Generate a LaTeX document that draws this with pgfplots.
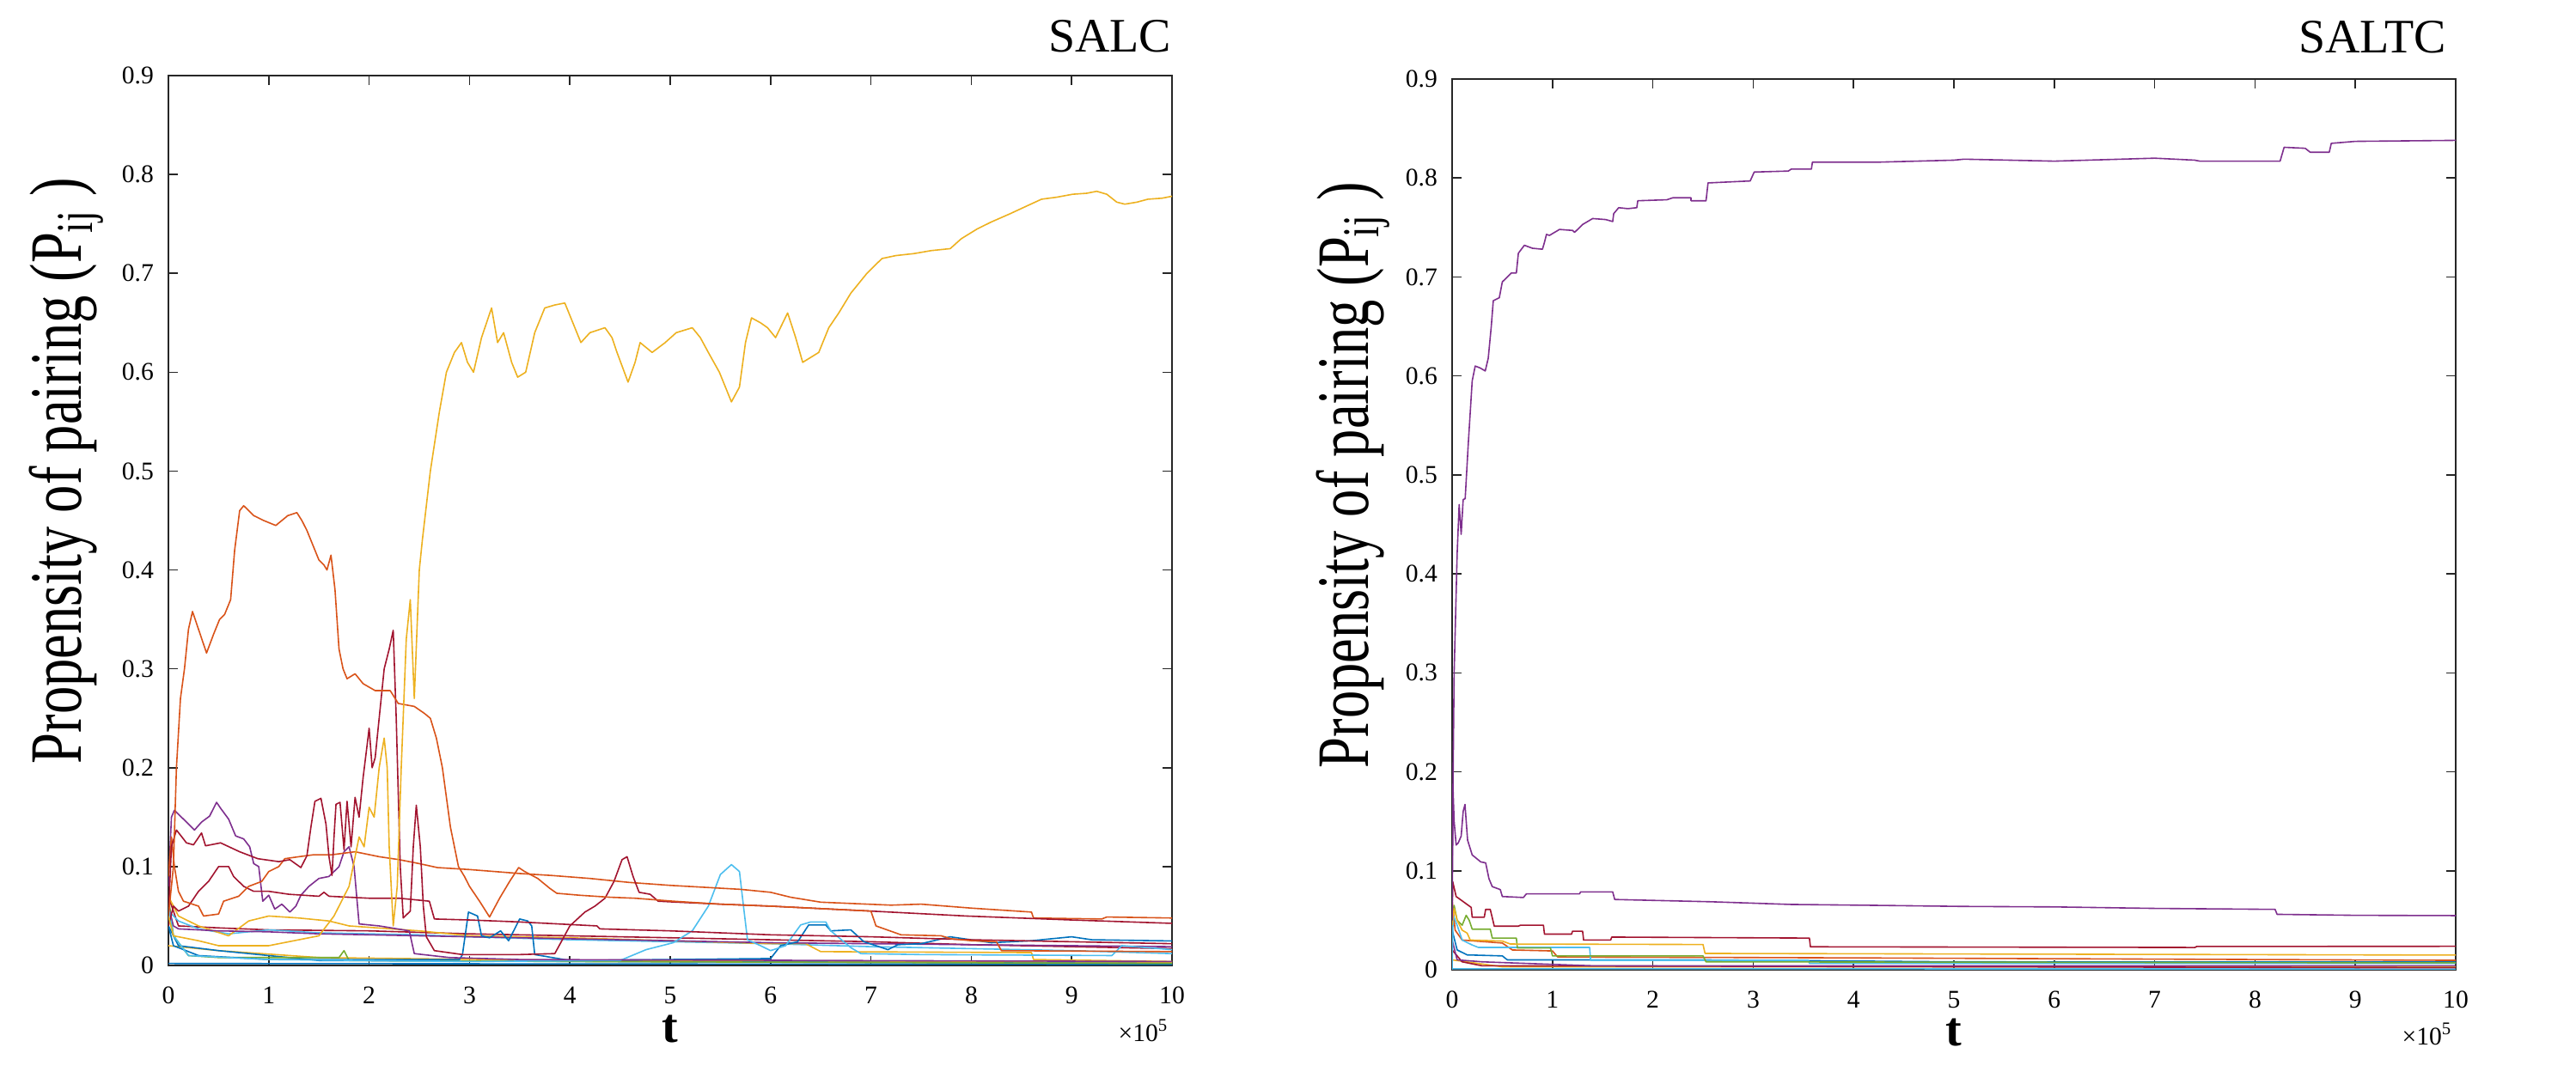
\documentclass[border=0pt]{standalone}
\usepackage{fontspec}
\setmainfont{Liberation Serif}
\usepackage{graphicx}
\usepackage{pgfplots}
\pgfplotsset{compat=1.18}
\definecolor{c1}{rgb}{0,0.447,0.741}
\definecolor{c2}{rgb}{0.850,0.325,0.098}
\definecolor{c3}{rgb}{0.929,0.694,0.125}
\definecolor{c4}{rgb}{0.494,0.184,0.556}
\definecolor{c5}{rgb}{0.466,0.674,0.188}
\definecolor{c6}{rgb}{0.301,0.745,0.933}
\definecolor{c7}{rgb}{0.635,0.078,0.184}
\definecolor{axc}{rgb}{0.15,0.15,0.15}
\pgfplotsset{myax/.style={
  scale only axis, width=292pt, height=259pt, anchor=south west,
  xmin=0, xmax=10, ymin=0, ymax=0.9,
  xtick={0,1,2,3,4,5,6,7,8,9,10},
  ytick={0,0.1,0.2,0.3,0.4,0.5,0.6,0.7,0.8,0.9},
  tick align=inside, major tick length=2.75pt,
  axis line style={draw=axc, line width=0.4pt},
  every tick/.style={axc, line width=0.4pt},
  tick label style={font=\fontsize{7.4}{8}\selectfont, text=black},
  /pgf/number format/assume math mode=true,
  yticklabel style={/pgf/number format/fixed, /pgf/number format/precision=1, xshift=-0.75pt},
  xticklabel style={yshift=-2.75pt},
  every axis plot/.append style={line width=0.4pt, line join=round, mark=none},
}}
\begin{document}
\begin{tikzpicture}
\useasboundingbox (0pt,0pt) rectangle (749.5pt,315.5pt);
% ---------------- SALC ----------------
\begin{axis}[myax, at={(49pt,34.5pt)}]
% low lines
\addplot[c1] coordinates {(0,0.002) (10,0.001)};
\addplot[c3] coordinates {(0,0.02) (0.5,0.015) (1.5,0.008) (4,0.005) (10,0.003)};
\addplot[c1] coordinates {(0,0.04) (0.1,0.02) (0.5,0.015) (1.0,0.01) (1.5,0.005) (10,0.002)};
\addplot[c5] coordinates {(0,0.07) (0.05,0.03) (0.2,0.01) (0.5,0.008) (1.7,0.008) (1.75,0.015) (1.8,0.005) (4.0,0.004) (10,0.002)};
\addplot[c7] coordinates {(0,0.07) (0.1,0.04) (0.5,0.038) (1,0.036) (2,0.035) (3,0.032) (4,0.03) (5,0.028) (6,0.026) (7,0.024) (8,0.021) (9,0.019) (10,0.017)};
\addplot[c6] coordinates {(0,0.055) (0.1,0.045) (0.3,0.037) (0.6,0.032) (1.0,0.036) (1.5,0.033) (2.0,0.032) (2.5,0.031) (3.0,0.029) (4.0,0.026) (5.0,0.024) (6.0,0.022) (7.0,0.019) (8.0,0.017) (9.0,0.015) (10,0.012)};
\addplot[c3] coordinates {(0,0.07) (0.1,0.05) (0.3,0.04) (0.6,0.03) (0.8,0.045) (1.0,0.05) (1.3,0.048) (1.6,0.045) (1.8,0.04) (2.5,0.035) (3,0.03) (4,0.028) (5,0.025) (6,0.022) (6.35,0.022) (6.5,0.014) (8.6,0.013) (8.62,0.006) (10,0.004)};
\addplot[c4] coordinates {(0,0.06) (0.05,0.04) (0.1,0.037) (0.5,0.035) (1.0,0.034) (1.5,0.032) (2.0,0.031) (3.0,0.029) (4.0,0.027) (5.0,0.025) (6.0,0.023) (7.0,0.022) (8.0,0.021) (9.0,0.020) (10,0.019)};
\addplot[c1] coordinates {(0,0.04) (0.05,0.02) (0.3,0.01) (1.0,0.006) (2.9,0.006) (2.93,0.011) (2.99,0.054) (3.08,0.05) (3.12,0.03) (3.2,0.028) (3.31,0.035) (3.39,0.025) (3.5,0.047) (3.58,0.045) (3.62,0.04) (3.65,0.011) (4,0.005) (6.0,0.007) (6.1,0.02) (6.27,0.024) (6.38,0.041) (6.55,0.041) (6.6,0.035) (6.8,0.036) (6.93,0.024) (7.17,0.016) (7.27,0.021) (7.5,0.022) (7.79,0.029) (8.2,0.023) (8.6,0.025) (9.0,0.029) (9.2,0.026) (10,0.0248)};
\addplot[c6] coordinates {(0,0.06) (0.05,0.03) (0.2,0.01) (1.0,0.006) (2.0,0.005) (3.0,0.004) (4.5,0.005) (4.76,0.016) (5.03,0.023) (5.22,0.035) (5.38,0.06) (5.5,0.092) (5.61,0.102) (5.69,0.095) (5.73,0.06) (5.77,0.026) (5.9,0.02) (6.0,0.015) (6.15,0.02) (6.3,0.041) (6.4,0.044) (6.55,0.044) (6.6,0.035) (6.8,0.018) (6.9,0.012) (7.5,0.011) (9.4,0.01) (9.5,0.02) (10,0.016)};
\addplot[c4] coordinates {(0,0.08) (0.03,0.15) (0.06,0.157) (0.12,0.151) (0.18,0.145) (0.26,0.137) (0.33,0.145) (0.41,0.151) (0.48,0.165) (0.52,0.159) (0.6,0.148) (0.67,0.131) (0.75,0.128) (0.81,0.12) (0.85,0.103) (0.9,0.1) (0.94,0.065) (1.0,0.071) (1.06,0.057) (1.13,0.062) (1.21,0.054) (1.27,0.06) (1.32,0.071) (1.4,0.08) (1.5,0.088) (1.6,0.09) (1.7,0.1) (1.75,0.115) (1.8,0.12) (1.85,0.1) (1.9,0.042) (2.1,0.04) (2.4,0.035) (2.45,0.012) (2.8,0.008) (3.5,0.006) (10,0.004)};
\addplot[c7] coordinates {(0,0.04) (0.05,0.06) (0.1,0.055) (0.2,0.06) (0.3,0.075) (0.4,0.085) (0.5,0.1) (0.6,0.1) (0.65,0.09) (0.75,0.08) (0.85,0.075) (1.0,0.075) (1.2,0.072) (1.5,0.07) (1.55,0.074) (1.6,0.07) (2.0,0.068) (2.3,0.068) (2.6,0.065) (2.65,0.047) (3.0,0.046) (3.5,0.044) (4.27,0.04) (4.3,0.037) (5.0,0.035) (6.0,0.031) (7.0,0.029) (8.0,0.026) (9.0,0.024) (10,0.022)};
\addplot[c2] coordinates {(0,0.09) (0.03,0.13) (0.06,0.1) (0.1,0.075) (0.15,0.065) (0.3,0.06) (0.35,0.05) (0.5,0.052) (0.55,0.065) (0.7,0.07) (0.8,0.08) (0.93,0.085) (1.0,0.095) (1.1,0.1) (1.16,0.108) (1.3,0.11) (1.45,0.112) (1.63,0.112) (1.86,0.115) (2.1,0.11) (2.3,0.107) (2.5,0.103) (2.68,0.099) (3.0,0.097) (3.25,0.095) (3.5,0.093) (3.82,0.091) (4.2,0.088) (4.59,0.084) (5.0,0.081) (5.35,0.079) (5.7,0.077) (6.0,0.074) (6.2,0.069) (6.5,0.064) (7.2,0.061) (7.5,0.062) (8.0,0.058) (8.6,0.054) (8.62,0.048) (9.3,0.047) (9.35,0.049) (10,0.048)};
\addplot[c7] coordinates {(0,0.05) (0.03,0.12) (0.08,0.137) (0.18,0.124) (0.25,0.122) (0.33,0.134) (0.37,0.121) (0.52,0.124) (0.71,0.115) (0.89,0.108) (1.10,0.105) (1.21,0.107) (1.32,0.099) (1.38,0.111) (1.42,0.14) (1.46,0.166) (1.52,0.169) (1.57,0.143) (1.60,0.11) (1.63,0.091) (1.65,0.13) (1.67,0.163) (1.71,0.165) (1.75,0.117) (1.78,0.166) (1.82,0.12) (1.86,0.17) (1.9,0.15) (1.94,0.19) (1.98,0.223) (2.0,0.24) (2.03,0.2) (2.06,0.21) (2.1,0.25) (2.15,0.3) (2.2,0.32) (2.24,0.339) (2.27,0.25) (2.31,0.1) (2.34,0.048) (2.41,0.055) (2.44,0.12) (2.47,0.162) (2.51,0.12) (2.54,0.06) (2.57,0.029) (2.65,0.015) (2.93,0.011) (3.5,0.011) (3.85,0.012) (3.92,0.025) (4.0,0.04) (4.15,0.054) (4.25,0.06) (4.35,0.068) (4.44,0.085) (4.52,0.107) (4.57,0.11) (4.63,0.09) (4.69,0.074) (4.8,0.072) (4.88,0.065) (5.07,0.064) (5.5,0.062) (6.0,0.06) (7.0,0.055) (7.95,0.05) (9.0,0.046) (10,0.0426)};
\addplot[c2] coordinates {(0,0.05) (0.05,0.1) (0.08,0.2) (0.12,0.27) (0.16,0.3) (0.2,0.34) (0.24,0.358) (0.3,0.34) (0.38,0.316) (0.45,0.335) (0.51,0.35) (0.56,0.355) (0.62,0.37) (0.66,0.42) (0.71,0.46) (0.75,0.465) (0.85,0.455) (0.95,0.45) (1.07,0.445) (1.19,0.455) (1.28,0.458) (1.33,0.45) (1.38,0.44) (1.44,0.425) (1.50,0.41) (1.55,0.405) (1.58,0.40) (1.62,0.415) (1.66,0.38) (1.70,0.32) (1.74,0.30) (1.78,0.29) (1.86,0.295) (1.94,0.285) (2.06,0.278) (2.21,0.278) (2.29,0.265) (2.45,0.262) (2.55,0.255) (2.61,0.25) (2.67,0.23) (2.73,0.2) (2.81,0.14) (2.89,0.1) (2.95,0.09) (3.0,0.08) (3.1,0.065) (3.2,0.049) (3.3,0.068) (3.4,0.085) (3.49,0.099) (3.55,0.095) (3.68,0.088) (3.8,0.078) (3.87,0.073) (4.1,0.071) (4.4,0.069) (4.65,0.068) (5.03,0.065) (5.5,0.062) (6.0,0.06) (6.6,0.057) (7.0,0.055) (7.05,0.04) (7.3,0.031) (7.7,0.03) (7.8,0.027) (8.0,0.025) (8.25,0.024) (8.3,0.015) (10,0.014)};
\addplot[c3] coordinates {(0,0.05) (0.05,0.03) (0.3,0.025) (0.5,0.02) (1.0,0.02) (1.5,0.03) (1.65,0.05) (1.75,0.07) (1.8,0.08) (1.9,0.13) (1.95,0.12) (2.0,0.16) (2.05,0.15) (2.1,0.2) (2.15,0.23) (2.18,0.2) (2.2,0.12) (2.24,0.04) (2.28,0.08) (2.32,0.2) (2.37,0.33) (2.41,0.37) (2.45,0.27) (2.5,0.4) (2.53,0.43) (2.61,0.5) (2.7,0.56) (2.77,0.6) (2.85,0.62) (2.92,0.63) (2.98,0.61) (3.04,0.60) (3.12,0.635) (3.22,0.665) (3.28,0.63) (3.34,0.64) (3.42,0.61) (3.48,0.595) (3.56,0.6) (3.65,0.64) (3.75,0.665) (3.85,0.668) (3.95,0.67) (4.03,0.65) (4.11,0.63) (4.2,0.64) (4.35,0.645) (4.42,0.635) (4.47,0.62) (4.58,0.59) (4.65,0.61) (4.70,0.63) (4.82,0.62) (4.95,0.63) (5.06,0.64) (5.22,0.645) (5.3,0.635) (5.38,0.62) (5.49,0.6) (5.61,0.57) (5.69,0.585) (5.75,0.63) (5.81,0.655) (5.9,0.65) (5.97,0.645) (6.05,0.635) (6.17,0.66) (6.25,0.635) (6.32,0.61) (6.4,0.615) (6.48,0.62) (6.58,0.645) (6.68,0.66) (6.8,0.68) (6.96,0.70) (7.11,0.715) (7.25,0.718) (7.43,0.72) (7.6,0.723) (7.79,0.725) (7.9,0.735) (8.06,0.745) (8.2,0.752) (8.38,0.76) (8.55,0.768) (8.70,0.775) (8.85,0.777) (9.01,0.78) (9.15,0.781) (9.25,0.783) (9.35,0.78) (9.45,0.772) (9.53,0.77) (9.65,0.772) (9.76,0.775) (9.9,0.776) (10,0.778)};
\end{axis}
% ---------------- SALTC ----------------
\begin{axis}[myax, at={(422.5pt,33.25pt)}, height=259.25pt]
\addplot[c6] coordinates {(0,0.001) (10,0.0008)};
\addplot[c3] coordinates {(0,0.01) (0.5,0.003) (10,0.003)};
\addplot[c7] coordinates {(0,0.02) (0.1,0.008) (0.3,0.004) (10,0.002)};
\addplot[c4] coordinates {(0,0.03) (0.05,0.01) (0.3,0.008) (1.4,0.004) (10,0.004)};
\addplot[c1] coordinates {(0,0.04) (0.05,0.02) (0.15,0.015) (0.5,0.014) (0.55,0.01) (2.5,0.01) (5,0.008) (10,0.0078)};
\addplot[c2] coordinates {(0,0.07) (0.03,0.04) (0.1,0.03) (0.5,0.027) (0.6,0.02) (1.0,0.019) (1.05,0.013) (4,0.012) (10,0.0095)};
\addplot[c6] coordinates {(0,0.0) (0.01,0.055) (0.05,0.045) (0.1,0.03) (0.2,0.025) (0.26,0.0226) (1.37,0.0226) (1.38,0.0095) (3.55,0.0095) (3.56,0.0065) (10,0.0065)};
\addplot[c5] coordinates {(0,0.05) (0.02,0.065) (0.05,0.05) (0.1,0.045) (0.14,0.055) (0.17,0.05) (0.2,0.041) (0.38,0.041) (0.4,0.032) (0.64,0.032) (0.65,0.022) (0.98,0.022) (1.0,0.014) (2.5,0.014) (2.53,0.008) (10,0.007)};
\addplot[c3] coordinates {(0,0.045) (0.02,0.062) (0.05,0.05) (0.1,0.04) (0.15,0.037) (0.18,0.03) (0.5,0.029) (0.58,0.026) (2.5,0.0255) (2.52,0.0165) (10,0.0148)};
\addplot[c7] coordinates {(0,0.05) (0.006,0.089) (0.04,0.074) (0.19,0.063) (0.20,0.053) (0.32,0.053) (0.334,0.061) (0.38,0.061) (0.42,0.044) (0.66,0.044) (0.68,0.045) (0.91,0.045) (0.92,0.036) (1.19,0.036) (1.20,0.039) (1.30,0.039) (1.31,0.030) (1.58,0.030) (1.59,0.033) (3.56,0.032) (3.57,0.0232) (7.4,0.0225) (7.42,0.0235) (10,0.0237)};
\addplot[c4] coordinates {(0,0.05) (0.01,0.18) (0.02,0.15) (0.04,0.126) (0.06,0.128) (0.09,0.135) (0.11,0.16) (0.128,0.167) (0.154,0.131) (0.2,0.116) (0.285,0.109) (0.334,0.108) (0.367,0.092) (0.40,0.084) (0.48,0.081) (0.50,0.074) (0.71,0.073) (0.74,0.0767) (1.27,0.0767) (1.28,0.0787) (1.60,0.0787) (1.62,0.071) (2.58,0.0687) (3.37,0.066) (4.28,0.065) (5.07,0.064) (6.0,0.0635) (7.0,0.062) (8.2,0.061) (8.22,0.056) (9.0,0.055) (10,0.0547)};
\addplot[c4] coordinates {(0,0.1) (0.01,0.2) (0.02,0.3) (0.03,0.34) (0.05,0.42) (0.07,0.47) (0.09,0.44) (0.11,0.475) (0.13,0.476) (0.16,0.53) (0.2,0.595) (0.23,0.61) (0.28,0.608) (0.33,0.605) (0.36,0.618) (0.39,0.65) (0.41,0.676) (0.47,0.679) (0.5,0.695) (0.59,0.704) (0.64,0.704) (0.66,0.724) (0.72,0.732) (0.8,0.729) (0.9,0.728) (0.92,0.735) (0.94,0.743) (0.97,0.742) (1.07,0.748) (1.2,0.747) (1.22,0.745) (1.3,0.753) (1.4,0.759) (1.53,0.758) (1.6,0.756) (1.61,0.764) (1.66,0.77) (1.75,0.769) (1.84,0.77) (1.85,0.777) (2.14,0.778) (2.2,0.78) (2.38,0.78) (2.38,0.777) (2.53,0.777) (2.55,0.795) (2.97,0.797) (3.01,0.806) (3.35,0.807) (3.38,0.809) (3.58,0.809) (3.59,0.816) (4.25,0.816) (5.0,0.818) (5.1,0.819) (6.0,0.817) (7.0,0.82) (7.4,0.818) (7.45,0.817) (8.25,0.817) (8.29,0.831) (8.5,0.83) (8.55,0.826) (8.74,0.826) (8.76,0.835) (9.0,0.837) (10,0.838)};
\end{axis}
% ---------------- labels ----------------
\node[anchor=base east, font=\fontsize{14}{16}\selectfont, inner sep=0pt] at (341pt,300.25pt) {SALC};
\node[anchor=base east, font=\fontsize{14}{16}\selectfont, inner sep=0pt] at (712pt,300pt) {SALTC};
\node[anchor=base, font=\bfseries\fontsize{14}{16}\selectfont, inner sep=0pt] at (195pt,12pt) {t};
\node[anchor=base, font=\bfseries\fontsize{14}{16}\selectfont, inner sep=0pt] at (568.5pt,11pt) {t};
\node[anchor=base east, font=\fontsize{7.4}{8}\selectfont, inner sep=0pt] at (340.25pt,12.25pt) {×10\textsuperscript{5}};
\node[anchor=base east, font=\fontsize{7.4}{8}\selectfont, inner sep=0pt] at (713.75pt,11.25pt) {×10\textsuperscript{5}};
\node[rotate=90, anchor=base, inner sep=0pt] at (23.75pt,178.5pt) {\scalebox{0.75}[1]{\fontsize{21.5}{24}\selectfont Propensity of pairing (P\textsubscript{ij} )}};
\node[rotate=90, anchor=base, inner sep=0pt] at (398pt,177.25pt) {\scalebox{0.75}[1]{\fontsize{21.5}{24}\selectfont Propensity of pairing (P\textsubscript{ij} )}};
\end{tikzpicture}
\end{document}
